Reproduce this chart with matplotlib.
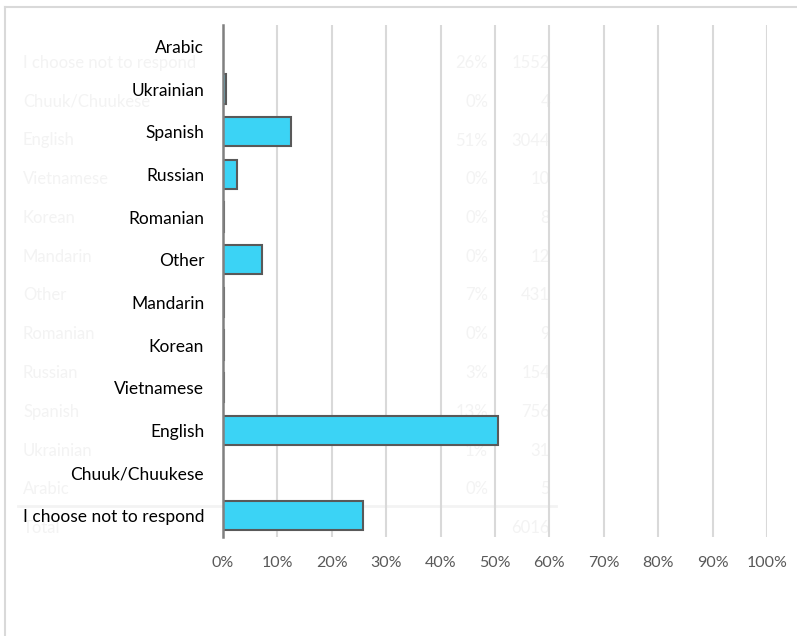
import matplotlib
matplotlib.use("Agg")
import matplotlib.pyplot as plt
from matplotlib.lines import Line2D
import numpy as np

# Data (bottom to top of the chart)
categories = ["I choose not to respond", "Chuuk/Chuukese", "English", "Vietnamese",
              "Korean", "Mandarin", "Other", "Romanian", "Russian", "Spanish",
              "Ukrainian", "Arabic"]
counts = [1552, 4, 3044, 10, 8, 12, 431, 9, 154, 756, 31, 5]
total = 6016
pct_labels = ["26%", "0%", "51%", "0%", "0%", "0%", "7%", "0%", "3%", "13%", "1%", "0%"]
xtick_vals = [0, 0.1, 0.2, 0.3, 0.4, 0.5, 0.6, 0.7, 0.8, 0.9, 1.0]
xtick_labels = ["0%", "10%", "20%", "30%", "40%", "50%", "60%", "70%", "80%", "90%", "100%"]

shares = [c / total for c in counts]

plt.rcParams['font.family'] = ['Lato', 'DejaVu Sans']

W, H = 797, 636
fig = plt.figure(figsize=(W / 100, H / 100), dpi=100)
fig.patch.set_facecolor("white")

# frame of the chart area
fig.add_artist(Line2D([5 / W, 1.0], [1 - 7 / H, 1 - 7 / H], color="#d9d9d9", lw=1.5, zorder=-2))
fig.add_artist(Line2D([5 / W, 5 / W], [1 - 7 / H, 0.0], color="#d9d9d9", lw=1.5, zorder=-2))

# faint ghost table behind the chart
ghost = "#f3f3f3"
row_y0, row_dy = 63, 38.75
for i, (name, p, c) in enumerate(zip(categories, pct_labels, counts)):
    y = 1 - (row_y0 + i * row_dy) / H
    fig.text(23 / W, y, name, color=ghost, fontsize=12, ha="left", va="center", zorder=-1)
    fig.text(488 / W, y, p, color=ghost, fontsize=12, ha="right", va="center", zorder=-1)
    fig.text(550 / W, y, str(c), color=ghost, fontsize=12, ha="right", va="center", zorder=-1)
yt = 1 - (row_y0 + len(categories) * row_dy) / H
fig.text(23 / W, yt, "Total", color=ghost, fontsize=12, ha="left", va="center", zorder=-1)
fig.text(550 / W, yt, str(total), color=ghost, fontsize=12, ha="right", va="center", zorder=-1)
fig.add_artist(Line2D([18 / W, 556 / W], [1 - 506 / H, 1 - 506 / H], color=ghost, lw=2, zorder=-1))

ax = fig.add_axes([223 / W, 1 - 537 / H, (767 - 223) / W, (537 - 25) / H])
ax.patch.set_alpha(0)

y = np.arange(len(categories))
ax.barh(y, shares, height=0.68, color="#3BD3F5", edgecolor="#595959", linewidth=1.5, zorder=3)

ax.set_xlim(0, 1.0)
ax.set_ylim(-0.5, len(categories) - 0.5)
ax.set_xticks(xtick_vals)
ax.set_xticklabels(xtick_labels, color="#595959", fontsize=11.5)
ax.set_yticks(y)
ax.set_yticklabels(categories, color="black", fontsize=12.5)
ax.tick_params(axis="both", length=0)
ax.tick_params(axis="x", pad=14)
ax.tick_params(axis="y", pad=13.5)
ax.xaxis.grid(True, color="#d9d9d9", linewidth=1.5, zorder=0)
ax.set_axisbelow(True)
for s in ["top", "right", "bottom"]:
    ax.spines[s].set_visible(False)
ax.spines["left"].set_color("#808080")
ax.spines["left"].set_linewidth(1.8)
ax.spines["left"].set_zorder(4)

fig.savefig("out.png", dpi=100)
